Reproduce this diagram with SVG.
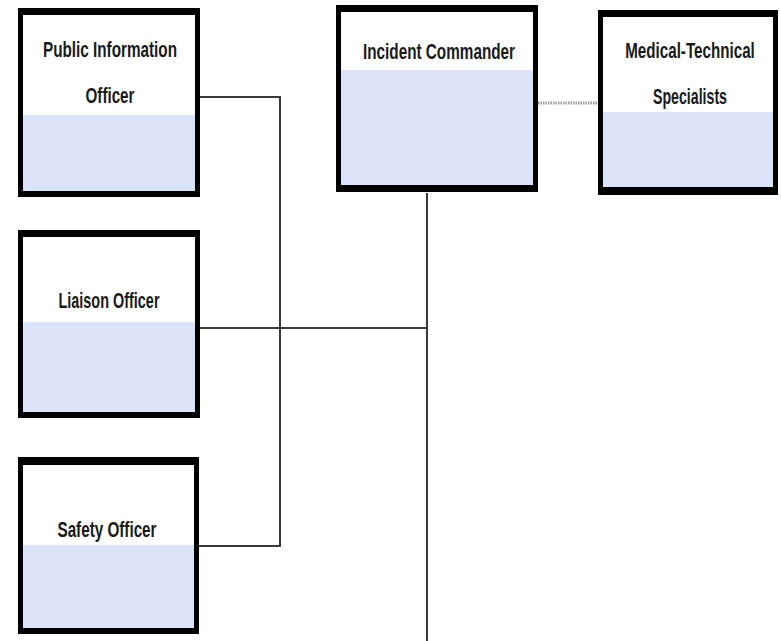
<svg xmlns="http://www.w3.org/2000/svg" width="781" height="641" viewBox="0 0 781 641">
<style>
.frame{fill:#000}
.inner{fill:#fff}
.band{fill:#dbe3fb}
.lbl{font-family:"Liberation Sans",Arial,sans-serif;font-size:22px;font-weight:bold;fill:#1a1a1a;text-anchor:middle}
.conn{fill:none;stroke:#3a3a3a;stroke-width:2}
.dot{fill:none;stroke:#9a9a9a;stroke-width:3;stroke-dasharray:1.5 1}
</style>
<rect width="781" height="641" fill="#fff"/>
<g id="connectors">
<polyline class="conn" points="200,97 280,97 280,546 199,546"/>
<line class="conn" x1="200" y1="328" x2="427" y2="328"/>
<line class="conn" x1="427" y1="193" x2="427" y2="641"/>
<line class="dot" x1="538" y1="103" x2="598" y2="103"/>
</g>
<g id="pio">
<rect class="frame" x="18" y="8" width="182" height="189"/>
<rect class="inner" x="23" y="15" width="172" height="176"/>
<rect class="band" x="23" y="115" width="172" height="76"/>
<text class="lbl" x="110" y="57" textLength="134" lengthAdjust="spacingAndGlyphs">Public Information</text>
<text class="lbl" x="110" y="103" textLength="49" lengthAdjust="spacingAndGlyphs">Officer</text>
</g>
<g id="ic">
<rect class="frame" x="336" y="5" width="202" height="187"/>
<rect class="inner" x="341" y="12" width="192" height="173"/>
<rect class="band" x="341" y="70" width="192" height="115"/>
<text class="lbl" x="439" y="59" textLength="152" lengthAdjust="spacingAndGlyphs">Incident Commander</text>
</g>
<g id="mts">
<rect class="frame" x="598" y="10" width="180" height="185"/>
<rect class="inner" x="603" y="17" width="170" height="170"/>
<rect class="band" x="603" y="112" width="170" height="75"/>
<text class="lbl" transform="translate(690,58) scale(0.69,1)" x="0" y="0">Medical-Technical</text>
<text class="lbl" x="690" y="104" textLength="74" lengthAdjust="spacingAndGlyphs">Specialists</text>
</g>
<g id="liaison">
<rect class="frame" x="18" y="230" width="182" height="188"/>
<rect class="inner" x="23" y="237" width="172" height="175"/>
<rect class="band" x="23" y="322" width="172" height="90"/>
<text class="lbl" x="109" y="308" textLength="101" lengthAdjust="spacingAndGlyphs">Liaison Officer</text>
</g>
<g id="safety">
<rect class="frame" x="18" y="457" width="181" height="177"/>
<rect class="inner" x="23" y="465" width="171" height="163"/>
<rect class="band" x="23" y="545" width="171" height="83"/>
<text class="lbl" x="107" y="537" textLength="99" lengthAdjust="spacingAndGlyphs">Safety Officer</text>
</g>
</svg>
